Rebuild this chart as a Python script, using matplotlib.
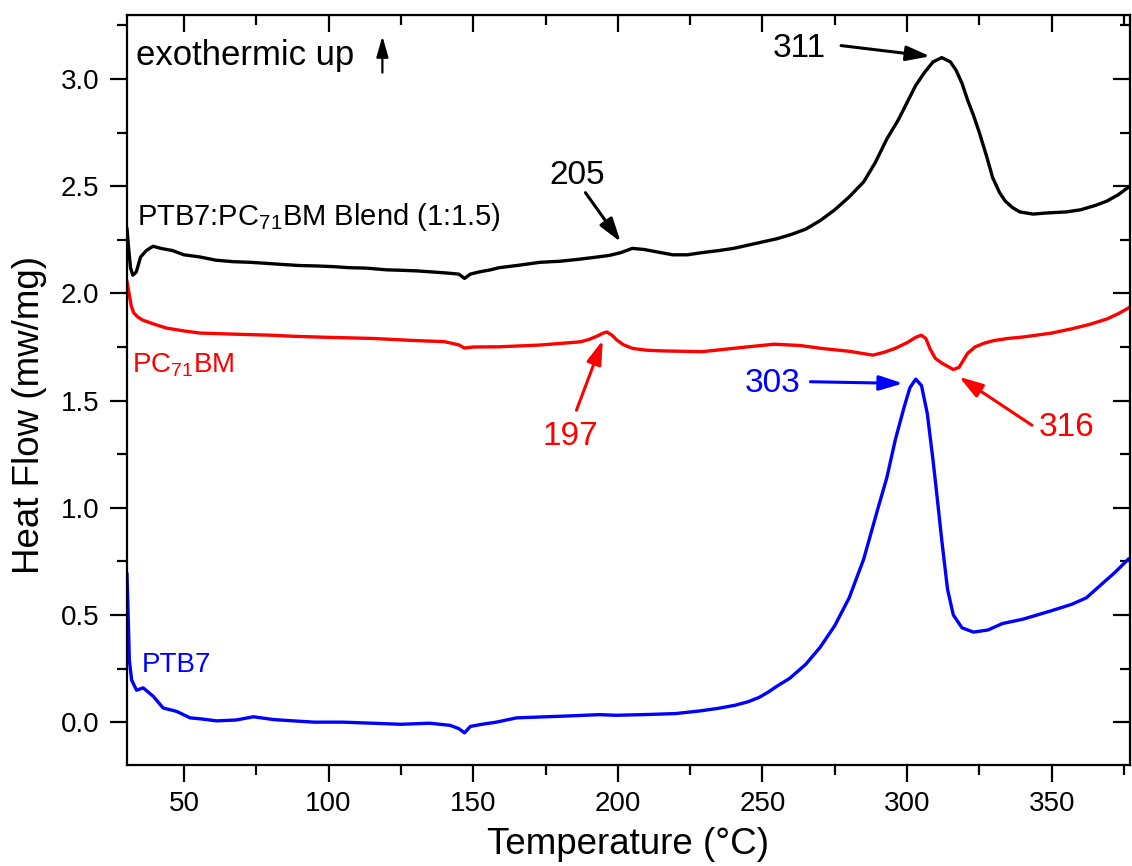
import matplotlib
matplotlib.use("Agg")
import matplotlib.pyplot as plt
from matplotlib.ticker import MultipleLocator

plt.rcParams['font.family'] = ['Liberation Sans', 'DejaVu Sans']
plt.rcParams['mathtext.fontset'] = 'custom'
plt.rcParams['mathtext.rm'] = 'Liberation Sans'
plt.rcParams['mathtext.it'] = 'Liberation Sans:italic'

# PTB7:PC71BM blend (black)
blend_t = [30.3, 30.8, 31.5, 32.3, 33.5, 35, 37, 39.3, 42, 46, 50, 55.5, 61, 67, 73, 78.7,
           84, 90, 96, 101.5, 107, 113, 120, 125, 130.5, 136, 141, 145, 147, 149, 152, 156,
           159, 165, 173, 180, 187, 193, 197, 201, 205, 209, 213, 219, 224, 229, 235, 240,
           245, 250, 255, 260, 265, 270, 275, 280, 285, 289, 293, 297, 300, 303, 306, 309,
           312, 315, 317, 319, 321, 323, 325, 327.5, 329.6, 332, 334, 336.5, 339, 343.6,
           348, 355, 360, 365, 369, 373, 377]
blend_hf = [2.30, 2.22, 2.12, 2.085, 2.10, 2.17, 2.20, 2.22, 2.21, 2.20, 2.18, 2.17, 2.155,
            2.148, 2.145, 2.14, 2.135, 2.13, 2.128, 2.125, 2.12, 2.118, 2.11, 2.108, 2.105,
            2.10, 2.095, 2.09, 2.07, 2.09, 2.10, 2.11, 2.12, 2.13, 2.145, 2.15, 2.16, 2.17,
            2.177, 2.19, 2.21, 2.205, 2.195, 2.18, 2.18, 2.19, 2.20, 2.21, 2.225, 2.24, 2.255,
            2.275, 2.30, 2.34, 2.39, 2.45, 2.52, 2.61, 2.72, 2.81, 2.89, 2.97, 3.03, 3.08,
            3.10, 3.08, 3.04, 2.98, 2.90, 2.83, 2.75, 2.64, 2.54, 2.47, 2.43, 2.40, 2.38,
            2.37, 2.375, 2.38, 2.39, 2.41, 2.43, 2.46, 2.50]

# PC71BM (red)
pcbm_t = [30.3, 31, 31.8, 32.6, 34, 35.8, 40, 44, 50, 55.5, 67, 80, 87.7, 100, 115, 130,
          140, 145, 147, 150, 159, 173, 187, 190, 192.7, 195, 196.2, 198, 199.7, 202, 205.2,
          210, 215, 229, 243, 254, 263, 270.7, 280, 288.2, 292, 295.8, 300, 303, 304.9,
          306.5, 308, 309.8, 312, 314, 316, 318, 320.9, 323.5, 326.5, 330, 335, 340.4, 350,
          357, 363, 369, 373, 377]
pcbm_hf = [2.055, 2.0, 1.94, 1.91, 1.89, 1.875, 1.855, 1.838, 1.825, 1.815, 1.81, 1.805,
           1.80, 1.795, 1.79, 1.78, 1.775, 1.76, 1.745, 1.75, 1.751, 1.759, 1.774, 1.785,
           1.80, 1.815, 1.82, 1.805, 1.782, 1.76, 1.743, 1.735, 1.732, 1.728, 1.748, 1.763,
           1.757, 1.743, 1.73, 1.712, 1.725, 1.743, 1.77, 1.795, 1.805, 1.79, 1.74, 1.697,
           1.675, 1.66, 1.645, 1.655, 1.72, 1.75, 1.767, 1.78, 1.79, 1.797, 1.815, 1.835,
           1.855, 1.88, 1.905, 1.935]

# PTB7 (blue)
ptb7_t = [30.3, 30.8, 31.1, 31.9, 33.6, 35.9, 39.4, 42.8, 47.5, 52.1, 56, 61.3, 68, 74, 81,
          87.8, 95, 105, 115, 125, 135, 142, 145, 147, 149, 153, 158, 165, 175, 185, 193.5,
          199.4, 211, 220, 228.8, 235, 240.6, 245, 248.8, 252, 254.7, 259.4, 265, 270, 275,
          280, 285, 290, 293, 296, 299, 301, 303, 305, 307, 309, 310, 312, 314, 316, 319,
          323, 328, 333, 340, 350, 357, 362, 367, 372, 376.5]
ptb7_hf = [0.69, 0.45, 0.29, 0.196, 0.149, 0.16, 0.12, 0.066, 0.05, 0.02, 0.015, 0.006,
           0.01, 0.025, 0.012, 0.006, 0.0, 0.0, -0.005, -0.01, -0.005, -0.015, -0.03, -0.05,
           -0.02, -0.01, 0.0, 0.02, 0.025, 0.03, 0.035, 0.032, 0.036, 0.04, 0.053, 0.065,
           0.079, 0.095, 0.115, 0.14, 0.165, 0.204, 0.27, 0.35, 0.45, 0.58, 0.76, 1.0, 1.14,
           1.32, 1.47, 1.56, 1.60, 1.57, 1.44, 1.22, 1.10, 0.85, 0.62, 0.50, 0.44, 0.42,
           0.43, 0.46, 0.48, 0.52, 0.55, 0.58, 0.64, 0.70, 0.76]

# peak labels: text, text position, arrow tail, arrow tip, colour
peak_labels = ["205", "311", "197", "316", "303"]
peak_text_xy = [(185.8, 2.51), (262.6, 3.101), (183.6, 1.293), (355, 1.333), (253.5, 1.542)]
peak_tail = [(188.8, 2.47), (277.2, 3.156), (185.7, 1.455), (343.2, 1.385), (266.6, 1.588)]
peak_tip = [(201, 2.24), (308, 3.106), (194.8, 1.782), (318, 1.611), (298.6, 1.58)]
peak_colors = ["black", "black", "red", "red", "blue"]

fig = plt.figure(figsize=(11.32, 8.66), dpi=100)
ax = fig.add_subplot(111)
fig.subplots_adjust(left=0.1122, right=0.998, bottom=0.1166, top=0.983)

ax.plot(blend_t, blend_hf, color='black', lw=2.4)
ax.plot(pcbm_t, pcbm_hf, color='red', lw=2.4)
ax.plot(ptb7_t, ptb7_hf, color='blue', lw=2.4)

ax.set_xlim(30.3, 377)
ax.set_ylim(-0.20, 3.30)

ax.xaxis.set_major_locator(MultipleLocator(50))
ax.xaxis.set_minor_locator(MultipleLocator(25))
ax.yaxis.set_major_locator(MultipleLocator(0.5))
ax.yaxis.set_minor_locator(MultipleLocator(0.25))
ax.yaxis.set_major_formatter(matplotlib.ticker.FormatStrFormatter('%.1f'))

for s in ax.spines.values():
    s.set_linewidth(1.6)

# outward ticks on left/bottom, inward mirrored ticks on top/right
ax.tick_params(which='major', direction='out', length=12, width=1.6, labelsize=20,
               top=False, right=False)
ax.tick_params(which='minor', direction='out', length=7, width=1.6, top=False, right=False)
ax.tick_params(axis='x', which='major', pad=7)
ax.tick_params(axis='y', which='major', pad=8)
ax_top = ax.secondary_xaxis('top')
ax_top.xaxis.set_major_locator(MultipleLocator(50))
ax_top.xaxis.set_minor_locator(MultipleLocator(25))
ax_top.tick_params(which='major', direction='in', length=12, width=1.6, labeltop=False)
ax_top.tick_params(which='minor', direction='in', length=7, width=1.6)
ax_right = ax.secondary_yaxis('right')
ax_right.yaxis.set_major_locator(MultipleLocator(0.5))
ax_right.yaxis.set_minor_locator(MultipleLocator(0.25))
ax_right.tick_params(which='major', direction='in', length=12, width=1.6, labelright=False)
ax_right.tick_params(which='minor', direction='in', length=7, width=1.6)

ax.set_xlabel("Temperature (°C)", fontsize=26.5, labelpad=7)
ax.set_ylabel("Heat Flow (mw/mg)", fontsize=26.5, va='center')
ax.yaxis.set_label_coords(-0.097, 0.467)

# curve labels
ax.text(33.4, 3.065, "exothermic up", fontsize=25, va='baseline')
ax.annotate("", xy=(118.6, 3.20), xytext=(118.6, 3.03),
            arrowprops=dict(arrowstyle='-|>,head_length=0.7,head_width=0.2',
                            color='black', lw=1.6, mutation_scale=18,
                            shrinkA=0, shrinkB=0))
ax.text(33.6, 2.319, r"PTB7:PC$_{\mathregular{71}}$BM Blend (1:1.5)", fontsize=21,
        va='baseline')
ax.text(31.9, 1.63, r"PC$_{\mathregular{71}}$BM", fontsize=20, color='red', va='baseline')
ax.text(35.4, 0.235, "PTB7", fontsize=20, color='blue', va='baseline')

for lab, txy, tail, tip, c in zip(peak_labels, peak_text_xy, peak_tail, peak_tip, peak_colors):
    ax.text(txy[0], txy[1], lab, fontsize=24, color=c, ha='center', va='baseline')
    ax.annotate("", xy=tip, xytext=tail,
                arrowprops=dict(arrowstyle='-|>,head_length=0.8,head_width=0.25',
                                color=c, lw=2.2, mutation_scale=18,
                                shrinkA=0, shrinkB=0))

fig.savefig("out.png", dpi=100)
